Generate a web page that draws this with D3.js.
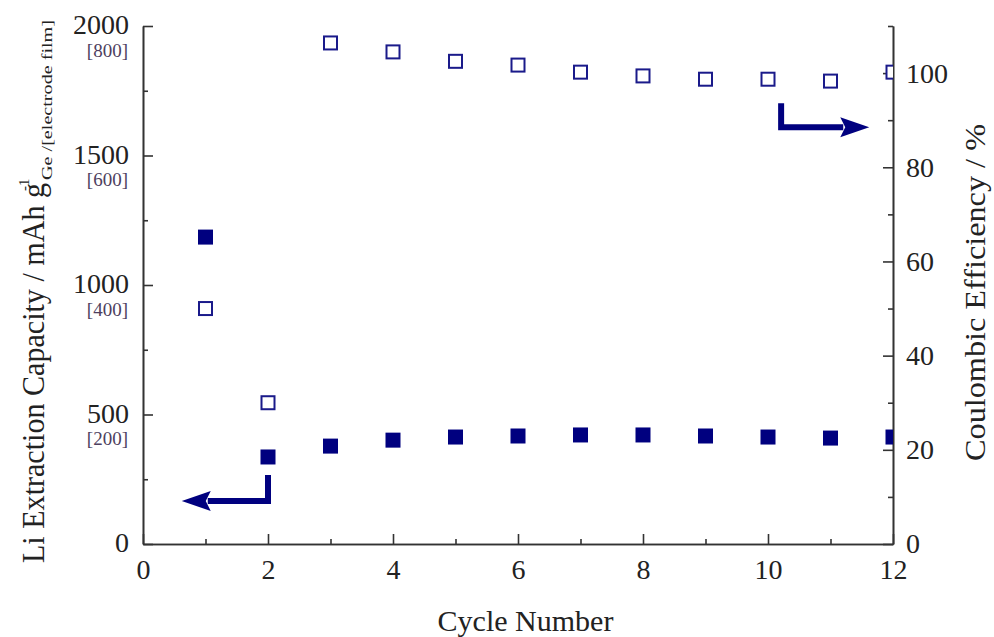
<!DOCTYPE html>
<html>
<head>
<meta charset="utf-8">
<script src="https://cdn.jsdelivr.net/npm/d3@7"></script>
<style>
  body { margin: 0; background: #fff; }
  svg text { font-family: "Liberation Serif", "Times New Roman", serif; }
</style>
</head>
<body>
<svg id="chart"></svg>
<script>
// cycle numbers and measured values
let cycles = [1, 2, 3, 4, 5, 6, 7, 8, 9, 10, 11, 12];
let capacity = [1185, 336, 378, 401, 413, 417, 421, 421, 417, 413, 409, 413];   // mAh g-1 (Ge)
let efficiency = [50, 30, 106.4, 104.5, 102.5, 101.7, 100.2, 99.4, 98.7, 98.7, 98.3, 100.2]; // %

// axis ticks
let xMajor = [0, 2, 4, 6, 8, 10, 12];
let xMinor = [1, 3, 5, 7, 9, 11];
let leftMajor = [0, 500, 1000, 1500, 2000];
let leftMinor = [250, 750, 1250, 1750];
let leftFilmLabels = {500: "[200]", 1000: "[400]", 1500: "[600]", 2000: "[800]"};
let rightMajor = [0, 20, 40, 60, 80, 100];
let rightMinor = [10, 30, 50, 70, 90, 110];

// arrow annotations in data units: [cycle, value]
let leftArrow = [[2, 266], [2, 166], [0.62, 166]];     // points to capacity axis
let rightArrow = [[10.21, 93.6], [10.21, 88.5], [11.62, 88.5]]; // points to efficiency axis

let navy = "#00007f";
let axisColor = "#333";

function getChartConfig() {
    let margin = { top: 26, right: 101, bottom: 93, left: 143 },
        width = 994 - margin.left - margin.right,
        height = 637 - margin.top - margin.bottom;

    let svg = d3.select("#chart")
        .attr("width", 994)
        .attr("height", 637);

    let container = svg.append("g")
        .attr("transform", "translate(" + margin.left + "," + margin.top + ")");

    return { width, height, container, margin, svg };
}

function getScales(config) {
    let { width, height } = config;
    let xScale = d3.scaleLinear().domain([0, 12]).range([0, width]);
    let yLeft = d3.scaleLinear().domain([0, 2000]).range([height, 0]);
    let yRight = d3.scaleLinear().domain([0, 110]).range([height, 0]);
    return { xScale, yLeft, yRight };
}

function styleAxis(g, fontSize) {
    g.select(".domain").attr("stroke", axisColor).attr("stroke-width", 1.6);
    g.selectAll(".tick line").attr("stroke", axisColor).attr("stroke-width", 1.6);
    g.selectAll(".tick text")
        .attr("fill", "#222")
        .style("font-size", fontSize + "px");
}

function drawAxes(config, scales) {
    let { container, width, height } = config;
    let { xScale, yLeft, yRight } = scales;

    // minor ticks first
    container.append("g")
        .attr("transform", "translate(0," + height + ")")
        .call(d3.axisBottom(xScale).tickValues(xMinor).tickSizeInner(-5).tickSizeOuter(0).tickFormat(""))
        .call(g => styleAxis(g, 28));
    container.append("g")
        .call(d3.axisLeft(yLeft).tickValues(leftMinor).tickSizeInner(-5).tickSizeOuter(0).tickFormat(""))
        .call(g => styleAxis(g, 28));
    container.append("g")
        .attr("transform", "translate(" + width + ",0)")
        .call(d3.axisRight(yRight).tickValues(rightMinor).tickSizeInner(-5).tickSizeOuter(0).tickFormat(""))
        .call(g => styleAxis(g, 28));

    // major ticks
    container.append("g")
        .attr("transform", "translate(0," + height + ")")
        .call(d3.axisBottom(xScale).tickValues(xMajor).tickSizeInner(-10).tickSizeOuter(0).tickPadding(15).tickFormat(d3.format("d")))
        .call(g => styleAxis(g, 28));

    let left = container.append("g")
        .call(d3.axisLeft(yLeft).tickValues(leftMajor).tickSizeInner(-10).tickSizeOuter(0).tickPadding(14).tickFormat(d3.format("d")))
        .call(g => styleAxis(g, 28));

    left.selectAll(".tick text").attr("dy", "0.28em");

    left.selectAll(".tick")
        .filter(d => leftFilmLabels[d])
        .append("text")
        .attr("x", -15)
        .attr("y", 30)
        .attr("text-anchor", "end")
        .attr("fill", "#4e3f60")
        .style("font-size", "19px")
        .text(d => leftFilmLabels[d]);

    container.append("g")
        .attr("transform", "translate(" + width + ",0)")
        .call(d3.axisRight(yRight).tickValues(rightMajor).tickSizeInner(-10).tickSizeOuter(0).tickPadding(13).tickFormat(d3.format("d")))
        .call(g => styleAxis(g, 28));

    // x title
    container.append("text")
        .attr("x", width * 0.51)
        .attr("y", height + 87)
        .attr("text-anchor", "middle")
        .attr("fill", "#222")
        .style("font-size", "30px")
        .text("Cycle Number");

    // left title, rotated, with super/subscript
    let lt = config.svg.append("g")
        .attr("transform", "translate(44,563) rotate(-90)")
        .attr("fill", "#222");
    lt.append("text")
        .style("font-size", "31px")
        .attr("textLength", 380)
        .attr("lengthAdjust", "spacingAndGlyphs")
        .text("Li Extraction Capacity / mAh g");
    lt.append("text")
        .attr("x", 372)
        .attr("y", -15)
        .style("font-size", "15px")
        .text("-1");
    lt.append("text")
        .attr("x", 383)
        .attr("y", 8)
        .style("font-size", "15px")
        .attr("textLength", 160)
        .attr("lengthAdjust", "spacingAndGlyphs")
        .text("Ge /[electrode film]");

    // right title
    config.svg.append("text")
        .attr("transform", "translate(985,461) rotate(-90)")
        .attr("fill", "#222")
        .style("font-size", "29px")
        .attr("textLength", 337)
        .attr("lengthAdjust", "spacingAndGlyphs")
        .text("Coulombic Efficiency / %");
}

function drawPoints(config, scales) {
    let { container, width, height } = config;
    let { xScale, yLeft, yRight } = scales;
    let s = 15;

    config.svg.append("defs").append("clipPath")
        .attr("id", "plotClip")
        .append("rect")
        .attr("x", 0).attr("y", -20)
        .attr("width", width).attr("height", height + 20);

    let plot = container.append("g").attr("clip-path", "url(#plotClip)");

    let rows = cycles.map((c, i) => ({ cycle: c, cap: capacity[i], ce: efficiency[i] }));

    plot.selectAll(".cap")
        .data(rows)
        .enter()
        .append("rect")
        .attr("class", "cap")
        .attr("x", d => xScale(d.cycle) - s / 2)
        .attr("y", d => yLeft(d.cap) - s / 2)
        .attr("width", s)
        .attr("height", s)
        .attr("fill", navy);

    plot.selectAll(".ce")
        .data(rows)
        .enter()
        .append("rect")
        .attr("class", "ce")
        .attr("x", d => xScale(d.cycle) - (s - 2) / 2)
        .attr("y", d => yRight(d.ce) - (s - 2) / 2)
        .attr("width", s - 2)
        .attr("height", s - 2)
        .attr("fill", "#fff")
        .attr("stroke", "#1a1a8a")
        .attr("stroke-width", 2);
}

function drawArrow(container, pts, xScale, yScale) {
    let p = pts.map(d => [xScale(d[0]), yScale(d[1])]);
    let n = p.length;
    let tip = p[n - 1];
    let prev = p[n - 2];
    let dir = Math.sign(tip[0] - prev[0]);
    let headLen = 26, headHalf = 10;
    let base = [tip[0] - dir * headLen, tip[1]];

    let line = d3.line();
    container.append("path")
        .attr("d", line(p.slice(0, n - 1).concat([base])))
        .attr("fill", "none")
        .attr("stroke", navy)
        .attr("stroke-width", 6)
        .attr("stroke-linejoin", "miter");

    container.append("path")
        .attr("d", line([
            tip,
            [base[0] - dir * 3, tip[1] - headHalf],
            [base[0] + dir * 2, tip[1]],
            [base[0] - dir * 3, tip[1] + headHalf]
        ]) + "Z")
        .attr("fill", navy);
}

function drawChart() {
    let config = getChartConfig();
    let scales = getScales(config);
    drawAxes(config, scales);
    drawPoints(config, scales);
    drawArrow(config.container, leftArrow, scales.xScale, scales.yLeft);
    drawArrow(config.container, rightArrow, scales.xScale, scales.yRight);
}

drawChart();
</script>
</body>
</html>
